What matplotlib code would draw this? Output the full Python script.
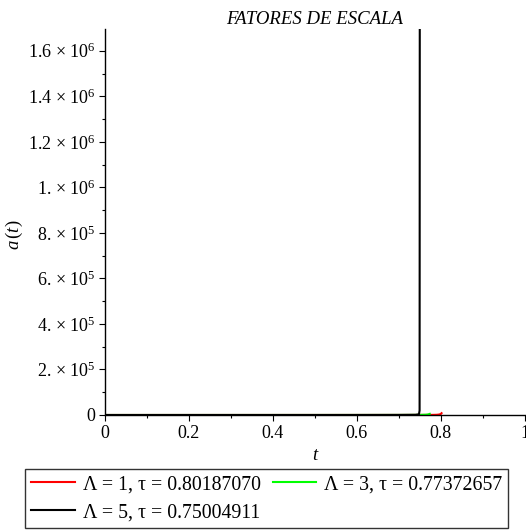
import matplotlib
matplotlib.use("Agg")
import matplotlib.pyplot as plt
from matplotlib.ticker import MultipleLocator

plt.rcParams['font.family'] = ['Liberation Serif', 'DejaVu Serif']
plt.rcParams['mathtext.fontset'] = 'custom'
plt.rcParams['mathtext.rm'] = 'Liberation Serif'
plt.rcParams['mathtext.it'] = 'Liberation Serif:italic'

# Data
t_l1 = [0.0, 0.1, 0.2, 0.3, 0.4, 0.5, 0.6, 0.7, 0.75, 0.78, 0.79, 0.795, 0.8, 0.8018]
a_l1 = [1, 2, 4, 8, 15, 30, 60, 120, 220, 500, 900, 1800, 4000, 8000]
t_l3 = [0.0, 0.1, 0.2, 0.3, 0.4, 0.5, 0.6, 0.7, 0.75, 0.765, 0.77, 0.7737]
a_l3 = [1, 2, 4, 9, 18, 40, 90, 200, 450, 1200, 2500, 5000]
t_l5 = [0.0, 0.1, 0.2, 0.3, 0.4, 0.5, 0.6, 0.7, 0.74, 0.748, 0.7495, 0.75]
a_l5 = [1, 2, 5, 10, 22, 50, 120, 300, 800, 3000, 20000, 2.0e6]

labels = ["Λ = 1, τ = 0.80187070",
          "Λ = 3, τ = 0.77372657",
          "Λ = 5, τ = 0.75004911"]
colors = ["#ff0000", "#00ff00", "#000000"]

yticks = [0, 2e5, 4e5, 6e5, 8e5, 1e6, 1.2e6, 1.4e6, 1.6e6]
ytick_labels = ["0", "2. × 10$^{5}$", "4. × 10$^{5}$", "6. × 10$^{5}$",
                "8. × 10$^{5}$", "1. × 10$^{6}$", "1.2 × 10$^{6}$",
                "1.4 × 10$^{6}$", "1.6 × 10$^{6}$"]
xticks = [0, 0.2, 0.4, 0.6, 0.8, 1]
xtick_labels = ["0", "0.2", "0.4", "0.6", "0.8", "1"]

fig = plt.figure(figsize=(5.26, 5.30), dpi=100)
ax = fig.add_axes([0.1996, 0.217, 0.798, 0.728])

lines = []
for t, a, c, lab in zip([t_l1, t_l3, t_l5], [a_l1, a_l3, a_l5], colors, labels):
    ln, = ax.plot(t, a, color=c, lw=1.5, label=lab)
    lines.append(ln)

ax.set_xlim(0, 1)
ax.set_ylim(0, 1.695e6)
ax.set_xticks(xticks)
ax.set_xticklabels(xtick_labels)
ax.set_yticks(yticks)
ax.set_yticklabels(ytick_labels)
ax.xaxis.set_minor_locator(MultipleLocator(0.1))
ax.yaxis.set_minor_locator(MultipleLocator(1e5))
ax.tick_params(which='major', length=4, width=0.8, labelsize=13, direction='out', pad=3)
ax.tick_params(which='minor', length=2.5, width=0.8, direction='out')
for s in ['top', 'right']:
    ax.spines[s].set_visible(False)
for s in ['left', 'bottom']:
    ax.spines[s].set_linewidth(1.0)

ax.set_title("FATORES DE ESCALA", fontsize=13.5, style='italic', pad=4)
ax.set_xlabel("t", fontsize=13.5, style='italic', labelpad=4)
ax.set_ylabel("$a\\,$($t$)", fontsize=13.5)
ax.yaxis.set_label_coords(-0.19, 0.466)

handles = [lines[0], lines[2], lines[1]]
leg = fig.legend(handles=handles, labels=[h.get_label() for h in handles],
                 loc='lower center', bbox_to_anchor=(0.507, 0.0),
                 ncol=2, fontsize=14.3, frameon=True, fancybox=False,
                 edgecolor='black', handlelength=2.2, handletextpad=0.4,
                 columnspacing=0.6, borderpad=0.3, labelspacing=0.45,
                 borderaxespad=0.1)
leg.get_frame().set_linewidth(1.0)

fig.savefig("out.png", dpi=100)
